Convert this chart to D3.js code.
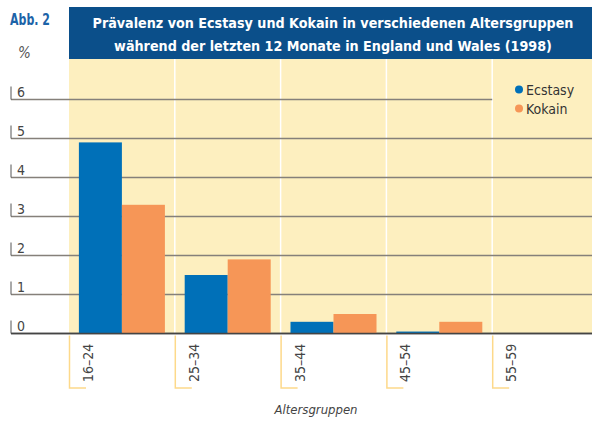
<html lang="de">
<head>
<meta charset="utf-8">
<title>Prävalenz von Ecstasy und Kokain</title>
<style>
  body { margin: 0; background: white; }
  svg text { font-family: "DejaVu Sans Condensed", "Liberation Sans Narrow", Arial, sans-serif; }
</style>
</head>
<body>
<div id="chart"></div>
<script src="https://d3js.org/d3.v7.min.js"></script>
<script>
// data
var groups = ["16–24", "25–34", "35–44", "45–54", "55–59"];
var series = ["Ecstasy", "Kokain"];
var ecstasy = [4.9, 1.5, 0.3, 0.05, 0];
var kokain = [3.3, 1.9, 0.5, 0.3, 0];
var yTicks = [0, 1, 2, 3, 4, 5, 6];
var colors = ["#0070b8", "#f69657"];

var width = 592, height = 422;

var svg = d3.select("#chart").append("svg")
    .attr("width", width)
    .attr("height", height);

var x = d3.scaleBand().domain(groups).range([69, 598]);
var xs = d3.scaleBand().domain(series).range([0, x.bandwidth()]).paddingOuter(0.23);
var y = d3.scaleLinear().domain([0, 6]).range([333.5, 99.5]);

// title box
svg.append("rect")
    .attr("x", 69).attr("y", 7)
    .attr("width", width - 69).attr("height", 52)
    .attr("fill", "#0b4f8a");

svg.append("text")
    .attr("x", 10).attr("y", 25)
    .attr("font-size", 15).attr("font-weight", "bold")
    .attr("fill", "#1c63a8")
    .attr("textLength", 40).attr("lengthAdjust", "spacingAndGlyphs")
    .text("Abb. 2");

var titleLines = [
    "Prävalenz von Ecstasy und Kokain in verschiedenen Altersgruppen",
    "während der letzten 12 Monate in England und Wales (1998)"
];

svg.selectAll(".title")
    .data(titleLines)
    .enter().append("text")
    .attr("x", 333).attr("y", function(d, i) { return 28 + i * 23; })
    .attr("text-anchor", "middle")
    .attr("font-size", 14.2).attr("font-weight", "bold")
    .attr("fill", "white")
    .text(function(d) { return d; });

// plot background
svg.append("rect")
    .attr("x", 69).attr("y", 59)
    .attr("width", width - 69).attr("height", y(0) - 59)
    .attr("fill", "#fdefbf");

// white separators between age groups
svg.selectAll(".sep")
    .data(groups.slice(1))
    .enter().append("line")
    .attr("x1", function(d) { return x(d); })
    .attr("x2", function(d) { return x(d); })
    .attr("y1", 59).attr("y2", y(0))
    .attr("stroke", "white").attr("stroke-width", 1.5);

svg.append("text")
    .attr("x", 18).attr("y", 58)
    .attr("font-size", 15).attr("font-style", "italic")
    .attr("fill", "#555")
    .text("%");

// gridlines + tick labels
var grid = svg.selectAll(".grid")
    .data(yTicks)
    .enter().append("g");

grid.append("line")
    .attr("x1", 11)
    .attr("x2", function(d) { return d == 6 ? x("55–59") : width; })
    .attr("y1", function(d) { return y(d); })
    .attr("y2", function(d) { return y(d); })
    .attr("stroke", function(d) { return d == 0 ? "#444" : "#85807a"; })
    .attr("stroke-width", 1.6);

grid.append("line")
    .attr("x1", 11).attr("x2", 11)
    .attr("y1", function(d) { return y(d) - 13; })
    .attr("y2", function(d) { return y(d); })
    .attr("stroke", "#555").attr("stroke-width", 1);

grid.append("text")
    .attr("x", 17)
    .attr("y", function(d) { return y(d) - 3; })
    .attr("font-size", 14)
    .attr("fill", "#444")
    .text(function(d) { return d; });

// bars
var rows = groups.map(function(g, i) {
    return { group: g, values: [ecstasy[i], kokain[i]] };
});

var gBar = svg.selectAll(".bars")
    .data(rows)
    .enter().append("g")
    .attr("transform", function(d) { return "translate(" + x(d.group) + ",0)"; });

gBar.selectAll("rect")
    .data(function(d) { return d.values.map(function(v, j) { return { s: series[j], v: v, j: j }; }); })
    .enter().append("rect")
    .attr("x", function(d) { return xs(d.s); })
    .attr("width", xs.bandwidth())
    .attr("y", function(d) { return y(d.v); })
    .attr("height", function(d) { return y(0) - y(d.v); })
    .attr("fill", function(d) { return colors[d.j]; });

// baseline on top
svg.append("line")
    .attr("x1", 11).attr("x2", width)
    .attr("y1", y(0)).attr("y2", y(0))
    .attr("stroke", "#444").attr("stroke-width", 1.6);

// x brackets and labels
var xt = svg.selectAll(".xt")
    .data(groups)
    .enter().append("g");

xt.append("path")
    .attr("d", function(d) { return "M" + (x(d) + 0.5) + "," + (y(0) + 2) + "V388H" + (x(d) + 17); })
    .attr("fill", "none")
    .attr("stroke", "#fdd98a").attr("stroke-width", 1.5);

xt.append("text")
    .attr("transform", function(d) { return "translate(" + (x(d) + 24) + ",382) rotate(-90)"; })
    .attr("font-size", 14)
    .attr("fill", "#444")
    .text(function(d) { return d; });

svg.append("text")
    .attr("x", 316).attr("y", 414)
    .attr("text-anchor", "middle")
    .attr("font-size", 13).attr("font-style", "italic")
    .attr("fill", "#444")
    .text("Altersgruppen");

// legend
var leg = svg.selectAll(".leg")
    .data(series)
    .enter().append("g")
    .attr("transform", function(d, i) { return "translate(519," + (89.5 + i * 19) + ")"; });

leg.append("circle")
    .attr("r", 4)
    .attr("fill", function(d, i) { return colors[i]; });

leg.append("text")
    .attr("x", 7).attr("y", 5)
    .attr("font-size", 14)
    .attr("fill", "#333")
    .text(function(d) { return d; });
</script>
</body>
</html>
